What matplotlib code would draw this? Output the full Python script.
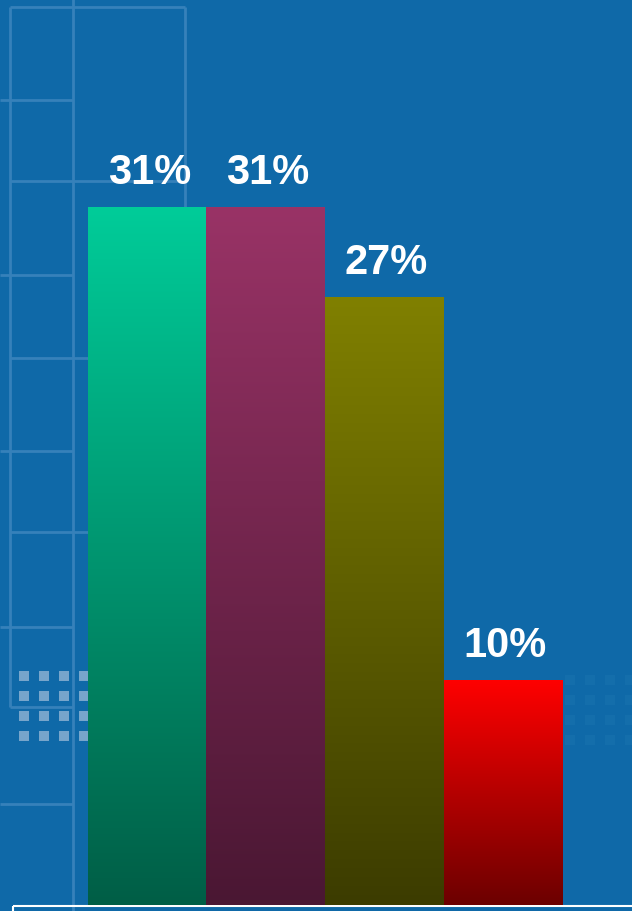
import numpy as np
import matplotlib
matplotlib.use("Agg")
import matplotlib.pyplot as plt
from matplotlib.colors import to_rgb
from matplotlib.patches import Rectangle

# data
categories = ["A", "B", "C", "D"]
values = [31, 31, 27, 10]
labels = ["31%", "31%", "27%", "10%"]
top_colors = ["#00CC99", "#993366", "#808000", "#FF0000"]
bottom_colors = ["#005E46", "#4A1733", "#3C3C00", "#6C0000"]

BG = "#0F69A8"
DECO = "#3681BA"
W, H = 632, 912

fig = plt.figure(figsize=(W / 100, H / 100), dpi=100, facecolor=BG)

# --- decorative background (pixel coordinates) ---
bg = fig.add_axes([0, 0, 1, 1])
bg.set_xlim(0, W); bg.set_ylim(H, 0); bg.axis("off")
bg.set_facecolor(BG)
vlines = [(10, 8, 708), (73, 0, H), (185, 8, 400)]
hlines = [(8, 10, 185), (101, 0, 73), (182, 10, 185), (276, 0, 73),
          (359, 10, 120), (452, 0, 73), (533, 10, 120), (628, 0, 73),
          (708, 10, 73), (805, 0, 73)]
for x, y0, y1 in vlines:
    bg.plot([x, x], [y0, y1], color=DECO, lw=2.0, solid_capstyle="butt")
for y, x0, x1 in hlines:
    bg.plot([x0, x1], [y, y], color=DECO, lw=2.0, solid_capstyle="butt")
for r in range(4):
    for c in range(4):
        bg.add_patch(Rectangle((19 + 20 * c, 672 + 20 * r), 10, 10,
                               color="#77A5CB", lw=0))
        bg.add_patch(Rectangle((565 + 20 * c, 676 + 20 * r), 10, 10,
                               color="#146EAB", lw=0))

# --- bars ---
ax = fig.add_axes([0, 6 / H, 1, 906 / H])
ax.patch.set_alpha(0)
ax.axis("off")

x = np.arange(len(categories))
bars = ax.bar(x, values, width=1.0, color="none", lw=0)
for b, top, bot, lab in zip(bars, top_colors, bottom_colors, labels):
    t = np.array(to_rgb(top)); d = np.array(to_rgb(bot))
    f = np.linspace(0, 1, 256)[:, None]
    grad = (t * (1 - f) + d * f)[:, None, :]
    x0, w, h = b.get_x(), b.get_width(), b.get_height()
    im = ax.imshow(grad, extent=(x0, x0 + w, 0, h), aspect="auto",
                   interpolation="bilinear", zorder=2)
    im.set_clip_path(b)
    ax.annotate(lab, (x0 + w / 2, h), xytext=(2, 24), textcoords="offset pixels",
                ha="center", va="baseline", color="white", fontsize=30,
                fontweight="bold", family="Liberation Sans")
ax.set_xlim(-1.2426, 4.0907)
ax.set_ylim(0, 40.25)

# bottom frame line
bg.add_patch(Rectangle((13, 907), 700, 30, fill=False, ec="white", lw=1.5, zorder=5))

fig.savefig("out.png", dpi=100, facecolor=BG)
